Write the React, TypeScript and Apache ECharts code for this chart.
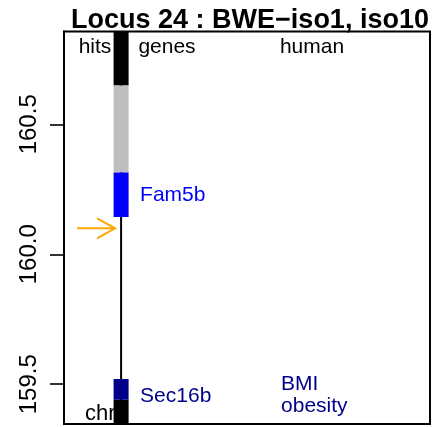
import React, { useEffect, useRef } from 'react';
import * as echarts from 'echarts';

// ---- data ----
const chartTitle = 'Locus 24 : BWE\u2212iso1, iso10';
const columnHeaders = ['hits', 'genes', 'human'];
const yTickValues = [159.5, 160.0, 160.5];
const yMin = 159.347;
const yMax = 160.857;
const chromName = 'chr1';
const bandStart = [160.649, 160.315, 159.0];
const bandEnd = [161.2, 160.649, 159.44];
const bandStain = ['dark', 'light', 'dark'];
const geneNames = ['Fam5b', 'Sec16b'];
const geneStart = [160.143, 159.44];
const geneEnd = [160.315, 159.52];
const geneLabelAt = [160.232, 159.459];
const geneKind = ['gene', 'trait'];
const hitPositions = [160.1];
const humanTraits = ['BMI\nobesity'];
const humanTraitAt = [159.463];

// ---- layout / styles ----
const FONT = "'Liberation Sans', Arial, Helvetica, sans-serif";
const CHROM_X = 15.6;
const HUMAN_X = 59.3;
const BAR_HALF = 7.5;
const stainColor: Record<string, string> = { dark: '#000000', light: '#BEBEBE' };
const geneColor: Record<string, string> = { gene: '#0000FF', trait: '#00008B' };
const headerX = [95, 167, 312];

export default function App() {
  const ref = useRef<HTMLDivElement>(null);
  useEffect(() => {
    if (!ref.current) return;
    const chart = echarts.init(ref.current, undefined, { renderer: 'svg' });
    const clampY = (y: number, cs: any) => Math.min(Math.max(y, cs.y), cs.y + cs.height);

    const option: any = {
      animation: false,
      grid: {
        left: 64, top: 31.5, right: 4, bottom: 3,
        show: true, borderColor: '#000', borderWidth: 2, backgroundColor: 'transparent',
      },
      xAxis: { type: 'value', min: 0, max: 100, show: false },
      yAxis: {
        type: 'value', min: yMin, max: yMax,
        axisLine: { show: true, lineStyle: { color: '#000', width: 2 } },
        axisTick: { show: true, length: 14, customValues: yTickValues, lineStyle: { color: '#000', width: 1.6 } },
        axisLabel: {
          customValues: yTickValues, rotate: 90, margin: 25, fontSize: 24, color: '#000', fontFamily: FONT,
          formatter: (v: number) => v.toFixed(1),
        },
        splitLine: { show: false },
      },
      graphic: [
        {
          type: 'text', x: 250, y: 19,
          style: { text: chartTitle, fontSize: 27, fontWeight: 'bold', fontFamily: FONT, fill: '#000', align: 'center', verticalAlign: 'middle' },
        },
        ...columnHeaders.map((h, i) => ({
          type: 'text', x: headerX[i], y: 45, z: 100,
          style: { text: h, fontSize: 21, fontFamily: FONT, fill: '#000', align: 'center', verticalAlign: 'middle' },
        })),
      ],
      series: [
        {
          type: 'custom', name: 'chromosome',
          data: [[CHROM_X, yMin]],
          renderItem: (params: any, api: any) => {
            const cs = params.coordSys;
            const x = api.coord([api.value(0), api.value(1)])[0];
            const children: any[] = [
              {
                type: 'text',
                style: { text: chromName, x: x - 36, y: cs.y + cs.height - 12, fontSize: 22, fontFamily: FONT, fill: '#000', align: 'left', verticalAlign: 'middle' },
              },
              { type: 'line', shape: { x1: x, y1: cs.y, x2: x, y2: cs.y + cs.height }, style: { stroke: '#000', lineWidth: 2 } },
            ];
            bandStart.forEach((s, i) => {
              const y1 = clampY(api.coord([0, bandEnd[i]])[1], cs);
              const y2 = clampY(api.coord([0, s])[1], cs);
              children.push({ type: 'rect', shape: { x: x - BAR_HALF, y: y1, width: BAR_HALF * 2, height: y2 - y1 }, style: { fill: stainColor[bandStain[i]] } });
            });
            return { type: 'group', children };
          },
        },
        {
          type: 'custom', name: 'genes',
          data: geneNames.map((n, i) => [CHROM_X, geneStart[i], geneEnd[i], geneLabelAt[i], i]),
          renderItem: (params: any, api: any) => {
            const cs = params.coordSys;
            const i = api.value(4);
            const x = api.coord([api.value(0), api.value(1)])[0];
            const y1 = clampY(api.coord([0, api.value(2)])[1], cs);
            const y2 = clampY(api.coord([0, api.value(1)])[1], cs);
            const ly = api.coord([0, api.value(3)])[1];
            const color = geneColor[geneKind[i]];
            return {
              type: 'group',
              children: [
                { type: 'rect', shape: { x: x - BAR_HALF, y: y1, width: BAR_HALF * 2, height: y2 - y1 }, style: { fill: color } },
                { type: 'text', style: { text: geneNames[i], x: x + 19, y: ly, fontSize: 21, fontFamily: FONT, fill: color, align: 'left', verticalAlign: 'middle' } },
              ],
            };
          },
        },
        {
          type: 'custom', name: 'hits',
          data: hitPositions.map((p) => [CHROM_X, p]),
          renderItem: (params: any, api: any) => {
            const [x, y] = api.coord([api.value(0), api.value(1)]);
            const tip = x - 6;
            const st = { stroke: '#FFA500', lineWidth: 2, fill: null };
            return {
              type: 'group',
              children: [
                { type: 'line', shape: { x1: x - 44, y1: y, x2: tip, y2: y }, style: st },
                { type: 'polyline', shape: { points: [[tip - 18, y - 10], [tip, y], [tip - 18, y + 10]] }, style: st },
              ],
            };
          },
        },
        {
          type: 'custom', name: 'human',
          data: humanTraits.map((t, i) => [HUMAN_X, humanTraitAt[i], i]),
          renderItem: (params: any, api: any) => {
            const [x, y] = api.coord([api.value(0), api.value(1)]);
            const i = api.value(2);
            return {
              type: 'text',
              style: { text: humanTraits[i], x, y, fontSize: 21, lineHeight: 22, fontFamily: FONT, fill: '#00008B', align: 'left', verticalAlign: 'middle' },
            };
          },
        },
      ],
    };
    chart.setOption(option);
    return () => chart.dispose();
  }, []);
  return <div ref={ref} style={{ position: 'fixed', left: 0, top: 0, width: 434, height: 427 }} />;
}
